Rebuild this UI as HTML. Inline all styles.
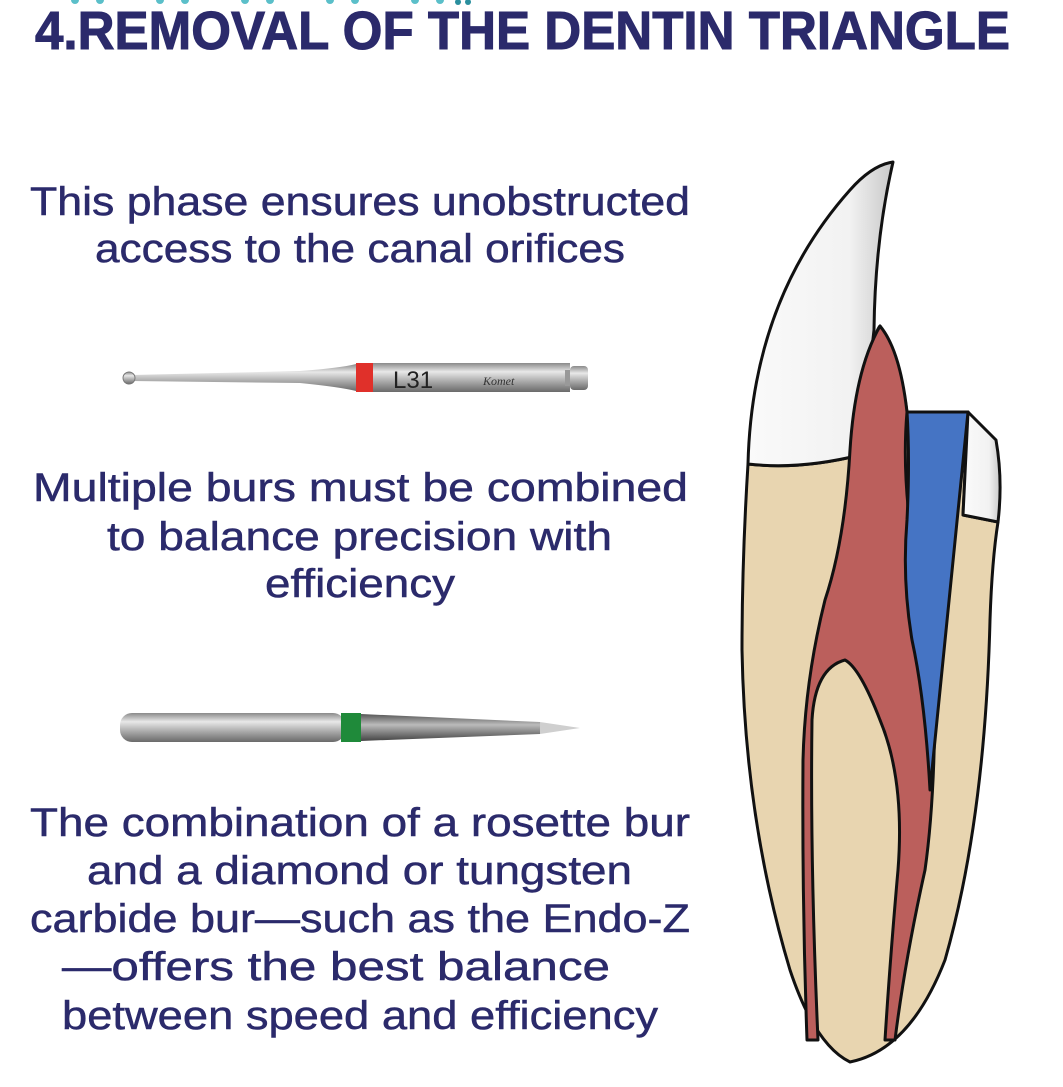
<!DOCTYPE html>
<html><head><meta charset="utf-8"><style>
html,body{margin:0;padding:0;background:#fff;}
svg{display:block;}
.t{font-family:"Liberation Sans",sans-serif;fill:#2b2a6b;font-size:40px;stroke:#2b2a6b;stroke-width:0.5;}
</style></head><body>
<svg width="1063" height="1087" viewBox="0 0 1063 1087" xmlns="http://www.w3.org/2000/svg">
<defs>
<linearGradient id="metal" x1="0" y1="0" x2="0" y2="1">
<stop offset="0" stop-color="#8a8a8a"/><stop offset="0.3" stop-color="#e8e8e8"/><stop offset="0.6" stop-color="#b0b0b0"/><stop offset="1" stop-color="#6a6a6a"/>
</linearGradient>
<linearGradient id="dia" x1="0" y1="0" x2="0" y2="1">
<stop offset="0" stop-color="#555"/><stop offset="0.4" stop-color="#bbb"/><stop offset="1" stop-color="#444"/>
</linearGradient>
<linearGradient id="enamel" x1="0" y1="0" x2="1" y2="0">
<stop offset="0" stop-color="#fafafa"/><stop offset="0.7" stop-color="#f2f2f2"/><stop offset="1" stop-color="#c8c8c8"/>
</linearGradient>
</defs>
<g fill="#5bbfc9">
<circle cx="75" cy="0" r="4"/><circle cx="100" cy="0" r="4"/><circle cx="160" cy="0" r="4"/><circle cx="185" cy="0" r="4"/><circle cx="245" cy="0" r="4"/><circle cx="270" cy="0" r="4"/><circle cx="330" cy="0" r="4"/><circle cx="355" cy="0" r="4"/><circle cx="415" cy="0" r="4"/><circle cx="440" cy="0" r="4"/></g>
<g fill="#2a8f9e"><circle cx="458" cy="2" r="3"/><circle cx="468" cy="2" r="3"/></g>
<text x="35" y="49" font-family="Liberation Sans, sans-serif" font-weight="bold" font-size="54" fill="#2b2a6b" stroke="#2b2a6b" stroke-width="1" textLength="975" lengthAdjust="spacingAndGlyphs">4.REMOVAL OF THE DENTIN TRIANGLE</text>

<text class="t" x="30" y="215" textLength="660" lengthAdjust="spacingAndGlyphs">This phase ensures unobstructed</text>
<text class="t" x="95" y="262" textLength="530" lengthAdjust="spacingAndGlyphs">access to the canal orifices</text>
<text class="t" x="33" y="501" textLength="655" lengthAdjust="spacingAndGlyphs">Multiple burs must be combined</text>
<text class="t" x="107" y="550" textLength="505" lengthAdjust="spacingAndGlyphs">to balance precision with</text>
<text class="t" x="265" y="597" textLength="190" lengthAdjust="spacingAndGlyphs">efficiency</text>
<text class="t" x="30" y="836" textLength="660" lengthAdjust="spacingAndGlyphs">The combination of a rosette bur</text>
<text class="t" x="87" y="884" textLength="545" lengthAdjust="spacingAndGlyphs">and a diamond or tungsten</text>
<text class="t" x="30" y="932" textLength="660" lengthAdjust="spacingAndGlyphs">carbide bur—such as the Endo-Z</text>
<text class="t" x="62" y="980" textLength="548" lengthAdjust="spacingAndGlyphs">—offers the best balance</text>
<text class="t" x="62" y="1029" textLength="596" lengthAdjust="spacingAndGlyphs">between speed and efficiency</text>

<!-- bur 1 -->
<path d="M132 375 L300 371 Q340 368 356 364 L356 391 Q340 387 300 383 L132 381 Z" fill="url(#metal)"/>
<circle cx="129" cy="378" r="6" fill="url(#metal)" stroke="#777" stroke-width="1"/>
<rect x="356" y="363" width="17" height="29" fill="#e0302a"/>
<rect x="373" y="363" width="197" height="29" fill="url(#metal)"/>
<rect x="570" y="366" width="18" height="24" rx="4" fill="url(#metal)"/>
<rect x="565" y="370" width="5" height="16" fill="#999"/>
<text x="393" y="388" font-family="Liberation Sans, sans-serif" font-size="24" fill="#222">L31</text>
<text x="483" y="385" font-family="Liberation Serif, serif" font-style="italic" font-size="12" fill="#333">Komet</text>

<!-- bur 2 -->
<rect x="120" y="713" width="225" height="29" rx="12" fill="url(#metal)"/>
<rect x="341" y="713" width="20" height="29" fill="#1f8a3a"/>
<path d="M361 714 L540 722 L540 734 L361 741 Z" fill="url(#dia)"/>
<path d="M540 722 L580 728 L540 734 Z" fill="#cfcfcf"/>

<!-- tooth -->
<g stroke="#111" stroke-width="3" stroke-linejoin="round">
<path d="M748 464 Q742 560 742 650 Q745 820 790 970 Q815 1045 850 1062 Q910 1050 945 960 Q985 820 990 620 Q992 560 998 522 L963 515 L968 412 L907 412 Q900 360 880 326 Q868 340 860 455 Q800 470 748 464 Z" fill="#e8d5b0"/>
<path d="M748 464 Q752 300 850 190 Q872 165 893 162 Q875 240 874 330 L860 455 Q800 470 748 464 Z" fill="url(#enamel)"/>
<path d="M968 412 L996 440 Q1003 480 998 522 L963 515 Z" fill="url(#enamel)"/>
<path d="M880 326 Q900 350 907 412 Q902 470 912 540 Q930 600 935 690 Q935 800 925 870 Q905 960 895 1040 L885 1040 Q890 960 898 870 Q905 780 880 720 Q860 668 845 660 Q815 668 812 720 Q810 860 818 1040 L807 1040 Q802 900 803 760 Q805 680 825 600 Q845 540 850 450 Q855 370 880 326 Z" fill="#bb5f5c"/>
<path d="M907 412 L968 412 L930 790 Q925 700 912 640 Q902 580 907 520 Q910 460 907 412 Z" fill="#4574c4"/>
</g>
</svg>
</body></html>
